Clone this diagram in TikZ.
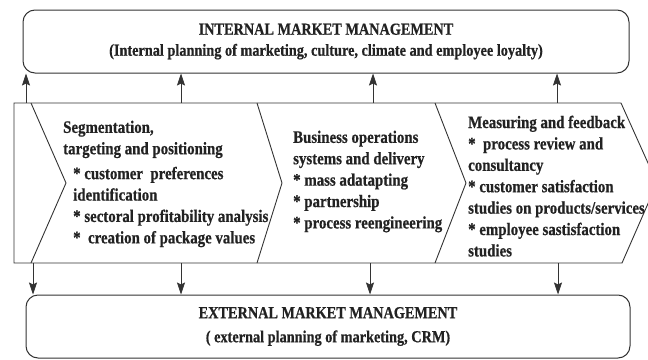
\documentclass[tikz,border=0pt]{standalone}
\usepackage{fontspec}
\newfontfamily\cf[FakeStretch=0.85,FakeBold=0.6]{Liberation Serif}
\usetikzlibrary{arrows.meta}
\definecolor{ink}{HTML}{222222}
\definecolor{edge}{HTML}{333333}
\tikzset{
  mgmt/.style={draw=edge, line width=1pt, rounded corners=12pt, inner sep=0pt, align=center, text=ink},
  band/.style={draw=edge, line width=0.9pt, line join=miter},
  arr/.style={draw=edge, line width=0.8pt, -{Stealth[length=12pt,width=8pt,inset=2pt]}},
  blk/.style={anchor=north west, inner sep=0pt, align=left, text=ink, font=\cf\bfseries\fontsize{17.5}{21.4}\selectfont}
}
\begin{document}
\begin{tikzpicture}[x=1pt,y=-1pt]
\useasboundingbox (0,0) rectangle (648,359);
\clip (0,0) rectangle (648,359);
% management boxes
\node[mgmt, minimum width=606pt, minimum height=63pt, font=\cf\bfseries\fontsize{16.8}{21}\selectfont] (internal) at (326,41.5)
  {INTERNAL MARKET MANAGEMENT\\(Internal planning of marketing, culture, climate and employee loyalty)};
\node[mgmt, minimum width=604pt, minimum height=63pt, font=\cf\bfseries\fontsize{16.8}{24}\selectfont] (external) at (328,326.5)
  {EXTERNAL MARKET MANAGEMENT\\( external planning of marketing, CRM)};
% process band
\draw[band] (14,103) -- (621,103) -- (657,183) -- (622,263) -- (14,263) -- cycle;
\draw[band] (31,103) -- (66,183) -- (31,263);
\draw[band] (257,103) -- (282,183) -- (257,263);
\draw[band] (435,103) -- (466,183) -- (435,263);
% texts
\node[blk] (t1) at (63,120.5) {Segmentation,\\targeting and positioning\\[3.5pt]
  \hspace*{10pt}* customer\ \ preferences\\
  \hspace*{10pt}identification\\
  \hspace*{10pt}* sectoral profitability analysis\\
  \hspace*{10pt}*\ \ creation of package values};
\node[blk] (t2) at (293,130.5) {Business operations\\systems and delivery\\* mass adatapting\\* partnership\\* process reengineering};
\node[blk] (t3) at (468,115.5) {Measuring and feedback\\*\ \ process review and\\consultancy\\* customer satisfaction\\studies on products/services\\* employee sastisfaction\\studies};
% connectors
\coordinate (u1) at (26,103);
\coordinate (u2) at (181,103);
\coordinate (u3) at (373,103);
\coordinate (u4) at (557,103);
\coordinate (d1) at (33,263);
\coordinate (d2) at (181,263);
\coordinate (d3) at (370,263);
\coordinate (d4) at (558,263);
\foreach \c in {u1,u2,u3,u4} \draw[arr] (\c) -- (\c |- internal.south);
\foreach \c in {d1,d2,d3,d4} \draw[arr] (\c) -- (\c |- external.north);
\end{tikzpicture}
\end{document}
